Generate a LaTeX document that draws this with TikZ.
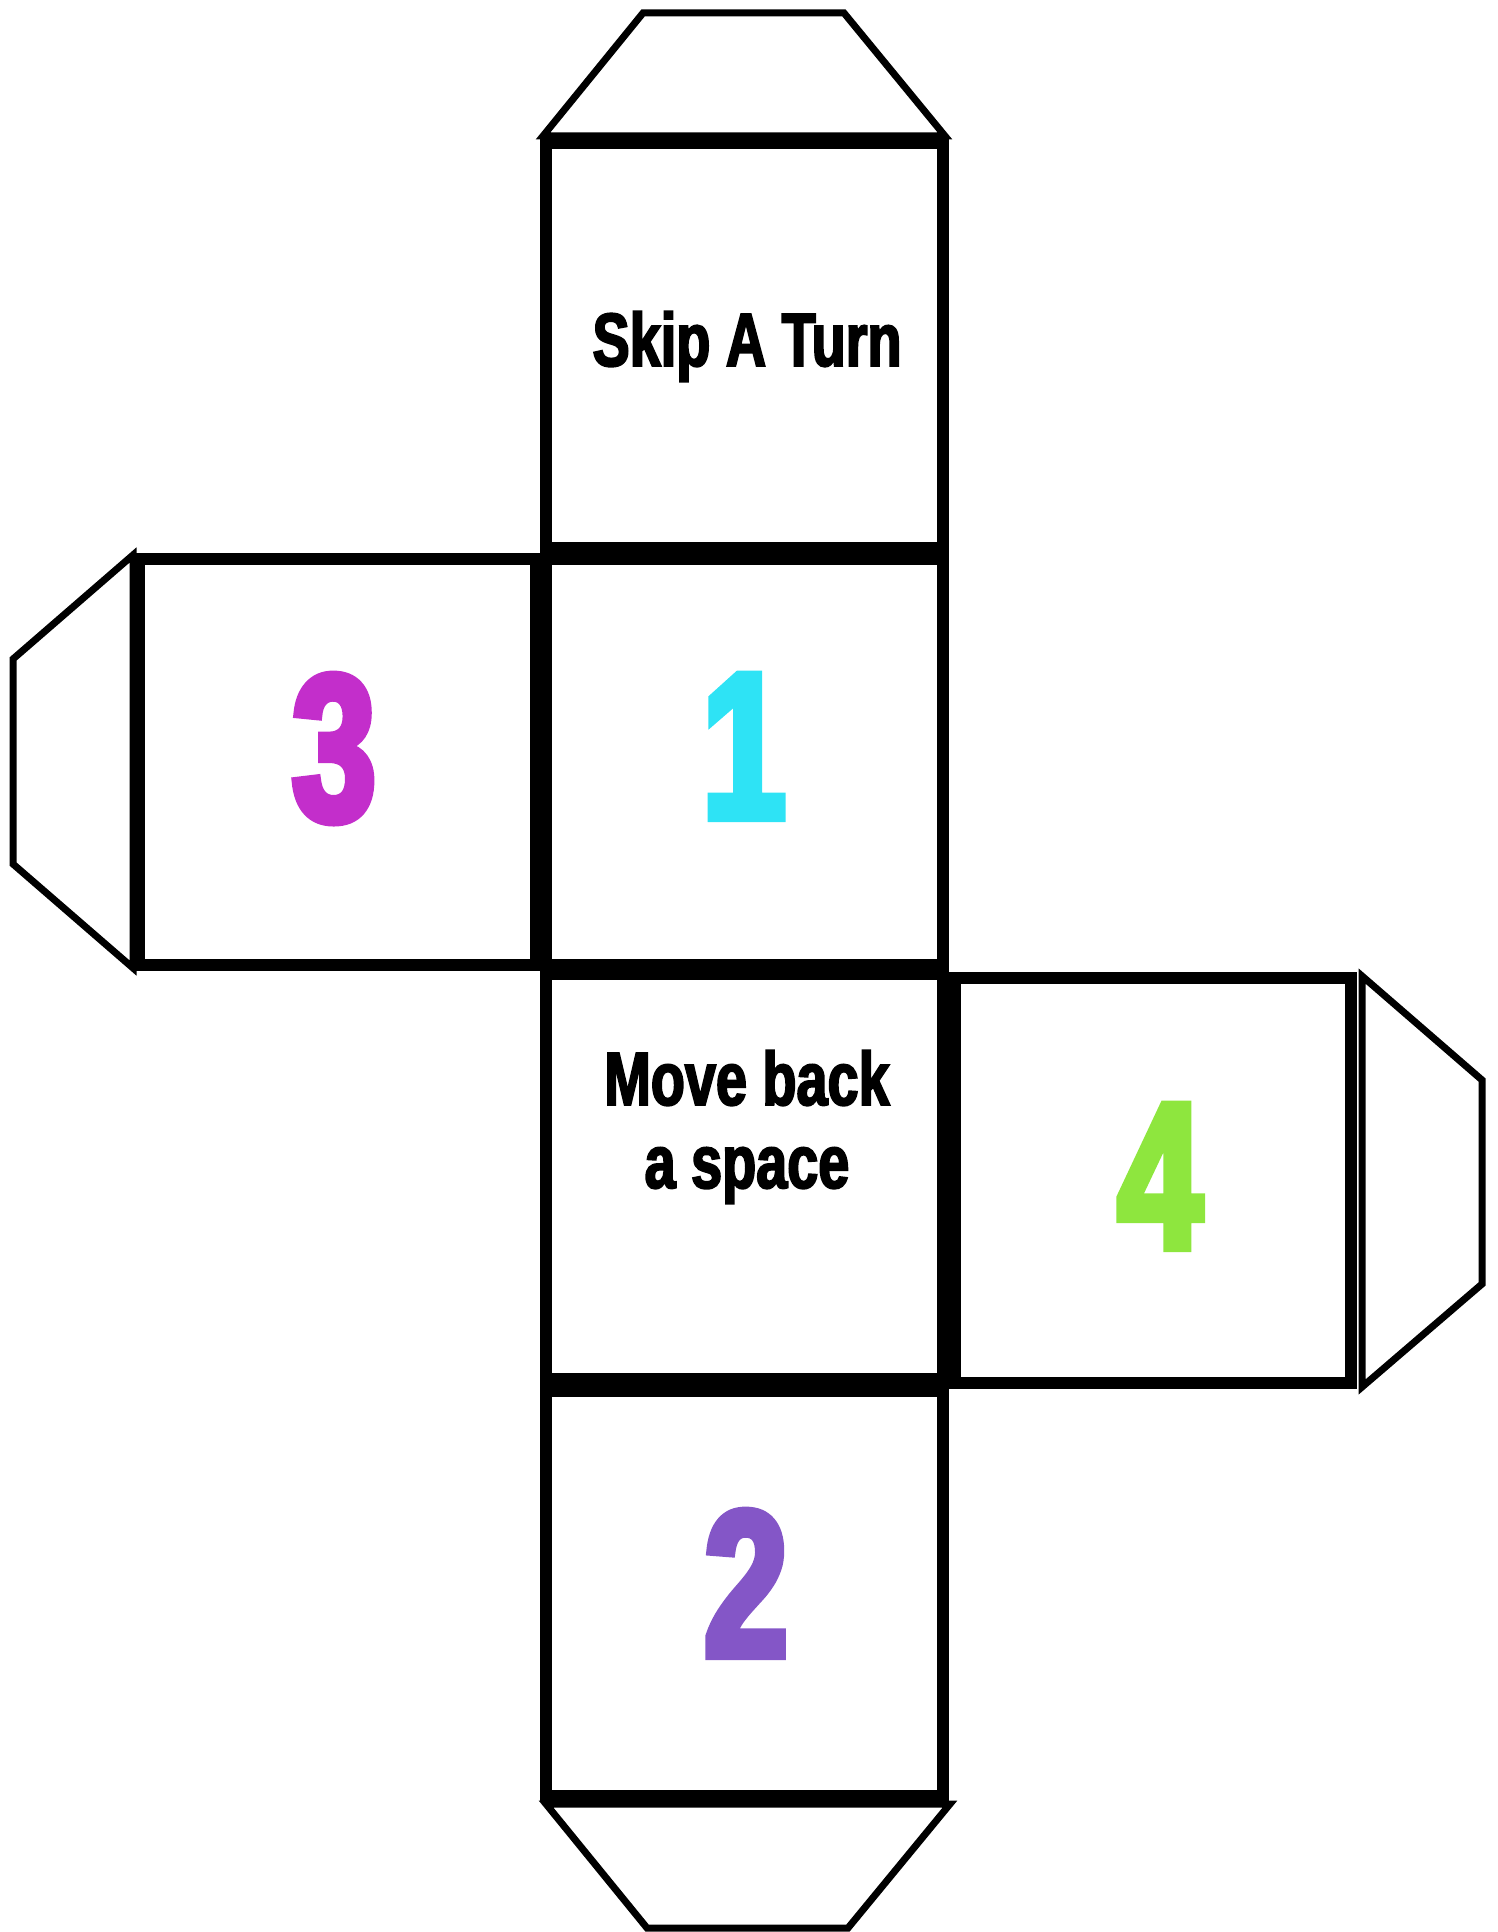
\documentclass[tikz,border=0pt]{standalone}
\usepackage{fontspec}
\usepackage{xcolor}
\usepackage{tikz}
\newfontfamily\dicefont{Liberation Sans}[FakeStretch=0.74, FakeBold=2.5]
\newfontfamily\digitfont{Liberation Sans}[FakeStretch=0.72, FakeBold=4]
\definecolor{diceCyan}{HTML}{2EE3F5}
\definecolor{diceMagenta}{HTML}{C32ECB}
\definecolor{diceGreen}{HTML}{8EE63E}
\definecolor{dicePurple}{HTML}{8456C7}
\tikzset{
  face/.style   = {draw=black, line width=6pt},
  flap/.style   = {draw=black, line width=3.5pt, line join=miter},
  words/.style  = {anchor=base, align=center, inner sep=0pt,
                   font=\dicefont\bfseries\fontsize{37.7}{41.5}\selectfont},
  digit/.style  = {anchor=base, inner sep=0pt,
                   font=\digitfont\bfseries\fontsize{104}{104}\selectfont},
}

\begin{document}
\begin{tikzpicture}[x=0.5pt, y=-0.5pt]
    \useasboundingbox (0,0) rectangle (1498,1932);

    %% Glue flaps
    \draw[flap] (543,136) -- (643,13) -- (844,13) -- (945,136) -- cycle;
    \draw[flap] (133,555) -- (13,659) -- (13,864) -- (133,968) -- cycle;
    \draw[flap] (1362,976) -- (1482,1080) -- (1482,1284) -- (1362,1387) -- cycle;
    \draw[flap] (546,1804) -- (647,1928) -- (848,1928) -- (950,1804) -- cycle;

    %% Faces of the die
    \draw[face] (546,143)  rectangle (943,548);
    \draw[face] (546,559)  rectangle (943,965);
    \draw[face] (139,559)  rectangle (536,965);
    \draw[face] (546,974)  rectangle (943,1379);
    \draw[face] (955,978)  rectangle (1351,1383);
    \draw[face] (546,1391) rectangle (943,1796);

    %% Labels
    \node[words] (skip) at (747,366)  {Skip A Turn};
    \node[words] (back) at (747,1188) {Move back\\a space};
    \node[digit, text=diceCyan]    (one)   at (744,818)  {1};
    \node[digit, text=diceMagenta] (three) at (334,820)  {3};
    \node[digit, text=diceGreen]   (four)  at (1160,1248) {4};
    \node[digit, text=dicePurple]  (two)   at (746,1656) {2};

\end{tikzpicture}
\end{document}
